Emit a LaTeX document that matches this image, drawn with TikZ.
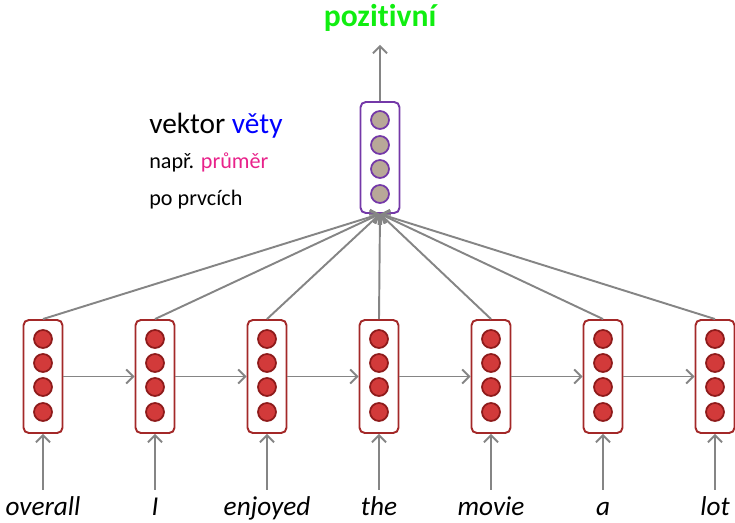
\documentclass[tikz,border=0pt]{standalone}
\usepackage{fontspec}
\setmainfont[Ligatures=NoCommon]{Carlito}
\usetikzlibrary{arrows.meta}
\definecolor{cellred}{HTML}{D23A3A}
\definecolor{celledge}{HTML}{8E1B1B}
\definecolor{boxred}{HTML}{A32828}
\definecolor{sentpurple}{HTML}{7438A8}
\definecolor{senttan}{HTML}{B8A898}
\definecolor{arrgray}{HTML}{858585}
\definecolor{posgreen}{HTML}{11EE11}
\definecolor{avgpink}{HTML}{E8228A}
\tikzset{
  hbox/.style={draw=boxred,line width=1.1pt,rounded corners=3pt,minimum width=0.78cm,minimum height=2.26cm,inner sep=0pt},
  sbox/.style={hbox,draw=sentpurple,minimum height=2.22cm},
  cell/.style={circle,draw=celledge,fill=cellred,line width=1pt,minimum size=0.36cm,inner sep=0pt},
  scell/.style={cell,draw=sentpurple,fill=senttan},
  arr/.style={-{Straight Barb[length=4pt,width=8pt]},draw=arrgray,line width=1.1pt},
  word/.style={font=\fontsize{15.5}{17}\selectfont\itshape,inner sep=0pt,anchor=base}
}
\begin{document}
\begin{tikzpicture}[x=0.02cm,y=-0.02cm]
            \useasboundingbox (0,0) rectangle (735,523);
            % vektor vety
            \node[sbox] (s) at (380,157.5) {};
            \foreach \j/\yy in {1/120,2/145,3/169,4/194}
                \node[scell] (s\j) at (380,\yy) {};
            \node[font=\fontsize{18}{20}\selectfont\bfseries,text=posgreen] (out) at (380,18) {pozitivní};
            \draw[arr] (s.north) -- (380,45);
            \node[anchor=west,font=\fontsize{16.7}{19}\selectfont,inner sep=0pt] (t1) at (149,126) {vektor \textcolor{blue}{věty}};
            \node[anchor=west,font=\fontsize{12.6}{14}\selectfont,inner sep=0pt] (t2) at (149,162) {např. \textcolor{avgpink}{průměr}};
            \node[anchor=west,font=\fontsize{12.6}{14}\selectfont,inner sep=0pt] (t3) at (149,200) {po prvcích};
            % slova a skryte stavy
            \foreach \i/\w in {1/overall,2/I,3/enjoyed,4/the,5/movie,6/a,7/lot} {
                \pgfmathsetmacro{\x}{43+112*(\i-1)}
                \node[hbox] (h\i) at (\x,376.5) {};
                \foreach \j/\yy in {1/339,2/363,3/387,4/412}
                    \node[cell] (h\i c\j) at (\x,\yy) {};
                \node[word] (w\i) at (\x,516) {\w};
                \coordinate (in\i) at (\x,490);
                \draw[arr] (in\i) -- (h\i.south);
                \draw[arr] (h\i.north) -- (s.south);
            }
            \foreach \i [count=\k from 2] in {1,...,6}
                \draw[arr] (h\i.east) -- (h\k.west);
        \end{tikzpicture}
\end{document}
